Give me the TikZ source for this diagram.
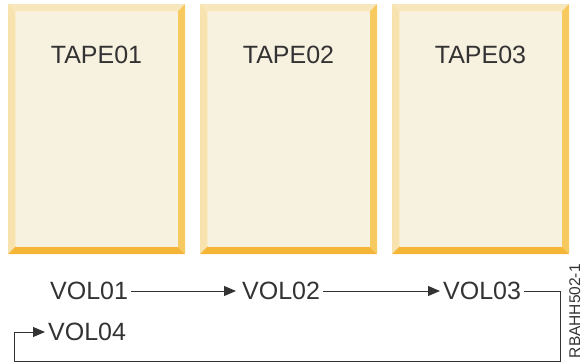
\documentclass[tikz,border=0pt]{standalone}
\usepackage{fontspec}
\setmainfont{Liberation Sans}
\usepackage{xcolor}
\usepackage{tikz}
\usetikzlibrary{arrows.meta,positioning,calc}
\definecolor{tapeface}{HTML}{F7F1E0}
\definecolor{bevtop}{HTML}{F8E6BC}
\definecolor{bevleft}{HTML}{F8E2AE}
\definecolor{bevright}{HTML}{F7CA60}
\definecolor{bevbottom}{HTML}{F5B638}
\definecolor{ink}{HTML}{333333}
\begin{document}
\begin{tikzpicture}[x=1pt,y=-1pt,
  tapename/.style={font=\fontsize{25}{30}\selectfont,text=ink,inner sep=0pt},
  vol/.style={font=\fontsize{25}{30}\selectfont,text=ink,text height=18pt,text depth=2pt,inner ysep=0pt,inner xsep=3pt,anchor=west},
  link/.style={draw=ink,line width=1pt,-{Triangle[length=12pt,width=10pt]}}]
 \useasboundingbox (0,0) rectangle (584,362);
 % tapes with bevelled edges
 \foreach \i/\xl in {1/8, 2/200, 3/392} {
   \pgfmathsetmacro{\xr}{\xl+177}
   \pgfmathsetmacro{\b}{7.5}
   \fill[bevtop] (\xl,4) -- (\xr,4) -- (\xr-\b,4+\b) -- (\xl+\b,4+\b) -- cycle;
   \fill[bevleft] (\xl,4) -- (\xl+\b,4+\b) -- (\xl+\b,254-\b) -- (\xl,254) -- cycle;
   \fill[bevright] (\xr,4) -- (\xr,254) -- (\xr-\b,254-\b) -- (\xr-\b,4+\b) -- cycle;
   \fill[bevbottom] (\xl,254) -- (\xr,254) -- (\xr-\b,254-\b) -- (\xl+\b,254-\b) -- cycle;
   \fill[tapeface] (\xl+\b,4+\b) rectangle (\xr-\b,254-\b);
   \node[tapename] (tape\i) at (\xl+88.5,55) {TAPE0\i};
 }
 % volumes
 \node[vol] (vol1) at (47,291) {VOL01};
 \node[vol] (vol2) at (239,291) {VOL02};
 \node[vol] (vol3) at (440,291) {VOL03};
 \node[vol] (vol4) at (45,332) {VOL04};
 \draw[link,shorten >=3pt] (vol1) -- (vol2);
 \draw[link] (vol2) -- (vol3);
 \coordinate (loopr) at (560.5,361.5);
 \coordinate (loopl) at (14.7,361.5);
 \draw[link] (vol3.east) -| (loopr) -- (loopl) |- (vol4.west);
 \node[rotate=90,anchor=base east,inner sep=0pt,text=ink,font=\fontsize{15.5}{18}\selectfont] (figid) at (580,264) {RBAHH502-1};
\end{tikzpicture}
\end{document}
